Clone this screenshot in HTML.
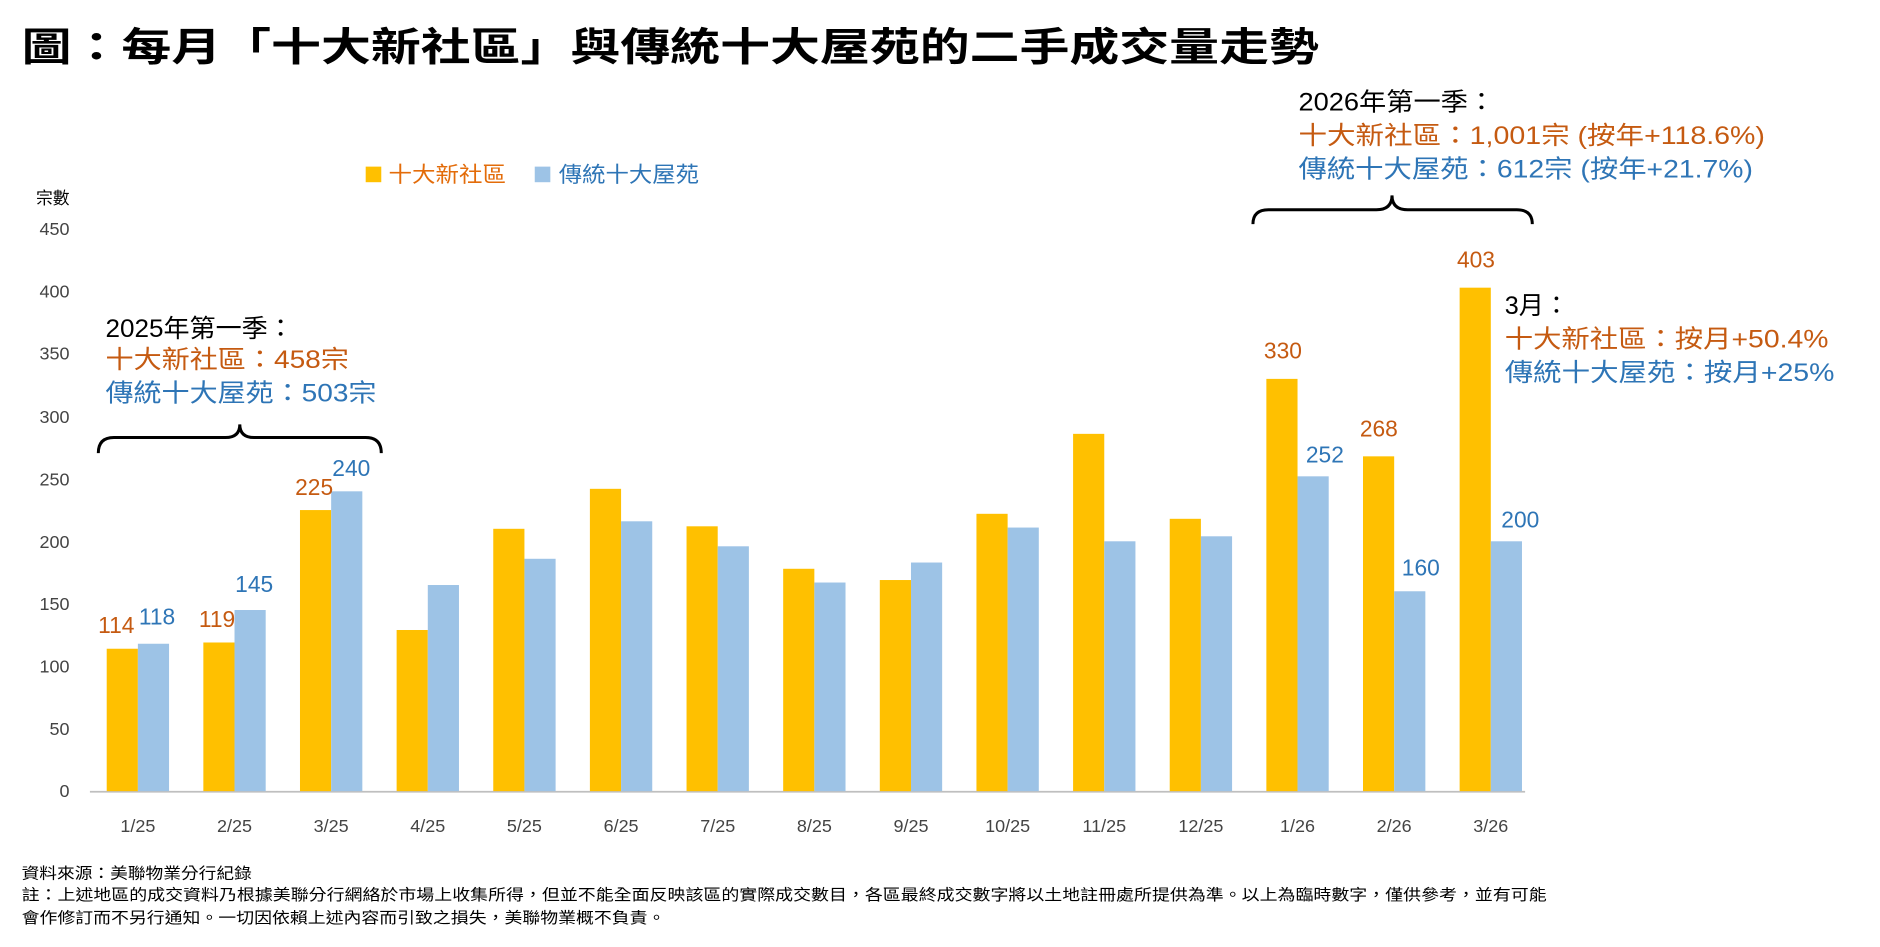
<!DOCTYPE html>
<html><head><meta charset="utf-8"><style>
html,body{margin:0;padding:0;background:#fff;}
svg{display:block;}
text{font-family:"Liberation Sans","Noto Sans CJK TC",sans-serif;}
</style></head><body>
<svg width="1880" height="947" viewBox="0 0 1568 790" preserveAspectRatio="none" xmlns="http://www.w3.org/2000/svg">
<rect width="1568" height="790" fill="#fff"/>
<text x="18" y="51" font-size="33" font-weight="bold" fill="#000" textLength="1082" lengthAdjust="spacingAndGlyphs">圖：每月「十大新社區」與傳統十大屋苑的二手成交量走勢</text>
<rect x="305" y="139" width="13" height="13" fill="#FFC000"/>
<text x="324" y="152" font-size="18" fill="#E36C0A" textLength="98" lengthAdjust="spacingAndGlyphs">十大新社區</text>
<rect x="446" y="139" width="13" height="13" fill="#9DC3E6"/>
<text x="466" y="152" font-size="18" fill="#2E75B6" textLength="117" lengthAdjust="spacingAndGlyphs">傳統十大屋苑</text>
<text x="30" y="170" font-size="14" fill="#000">宗數</text>
<g font-size="15" fill="#444" text-anchor="end">
<text x="58" y="665">0</text><text x="58" y="613">50</text><text x="58" y="561">100</text>
<text x="58" y="509">150</text><text x="58" y="457">200</text><text x="58" y="405">250</text>
<text x="58" y="353">300</text><text x="58" y="300">350</text><text x="58" y="248">400</text>
<text x="58" y="196">450</text>
</g>
<line x1="75" y1="660.5" x2="1272" y2="660.5" stroke="#bfbfbf" stroke-width="1.5"/>
<g id="bars"></g>
<g id="xl" font-size="15" fill="#444" text-anchor="middle"></g>
<g font-size="19">
<text x="97" y="528" text-anchor="middle" fill="#C55A11">114</text>
<text x="131" y="521" text-anchor="middle" fill="#2E75B6">118</text>
<text x="181" y="523" text-anchor="middle" fill="#C55A11">119</text>
<text x="212" y="494" text-anchor="middle" fill="#2E75B6">145</text>
<text x="262" y="413" text-anchor="middle" fill="#C55A11">225</text>
<text x="293" y="397" text-anchor="middle" fill="#2E75B6">240</text>
<text x="1070" y="299" text-anchor="middle" fill="#C55A11">330</text>
<text x="1105" y="386" text-anchor="middle" fill="#2E75B6">252</text>
<text x="1150" y="364" text-anchor="middle" fill="#C55A11">268</text>
<text x="1185" y="480" text-anchor="middle" fill="#2E75B6">160</text>
<text x="1231" y="223" text-anchor="middle" fill="#C55A11">403</text>
<text x="1268" y="440" text-anchor="middle" fill="#2E75B6">200</text>
</g>
<g font-size="21">
<text x="88" y="281" fill="#000" textLength="157" lengthAdjust="spacingAndGlyphs">2025年第一季：</text>
<text x="88" y="307" fill="#C55A11" textLength="203" lengthAdjust="spacingAndGlyphs">十大新社區：458宗</text>
<text x="88" y="335" fill="#2E75B6" textLength="226" lengthAdjust="spacingAndGlyphs">傳統十大屋苑：503宗</text>
<text x="1083" y="92" fill="#000" textLength="164" lengthAdjust="spacingAndGlyphs">2026年第一季：</text>
<text x="1083" y="120" fill="#C55A11" textLength="389" lengthAdjust="spacingAndGlyphs">十大新社區：1,001宗 (按年+118.6%)</text>
<text x="1083" y="148" fill="#2E75B6" textLength="379" lengthAdjust="spacingAndGlyphs">傳統十大屋苑：612宗 (按年+21.7%)</text>
<text x="1255" y="262" fill="#000">3月：</text>
<text x="1255" y="290" fill="#C55A11" textLength="270" lengthAdjust="spacingAndGlyphs">十大新社區：按月+50.4%</text>
<text x="1255" y="318" fill="#2E75B6" textLength="275" lengthAdjust="spacingAndGlyphs">傳統十大屋苑：按月+25%</text>
</g>
<path d="M82 378 Q82 365 95 365 L188 365 Q200 365 200 354 Q200 365 212 365 L305 365 Q318 365 318 378" fill="none" stroke="#000" stroke-width="2.5"/>
<path d="M1045 187 Q1045 175 1058 175 L1148 175 Q1161 175 1161 163 Q1161 175 1174 175 L1265 175 Q1278 175 1278 187" fill="none" stroke="#000" stroke-width="2.5"/>
<g font-size="13" fill="#000">
<text x="18" y="733" textLength="192" lengthAdjust="spacingAndGlyphs">資料來源：美聯物業分行紀錄</text>
<text x="18" y="751" textLength="1272" lengthAdjust="spacingAndGlyphs">註：上述地區的成交資料乃根據美聯分行網絡於市場上收集所得，但並不能全面反映該區的實際成交數目，各區最終成交數字將以土地註冊處所提供為準。以上為臨時數字，僅供參考，並有可能</text>
<text x="18" y="770" textLength="537" lengthAdjust="spacingAndGlyphs">會作修訂而不另行通知。一切因依賴上述內容而引致之損失，美聯物業概不負責。</text>
</g>
<script>
var o=[114,119,225,129,210,242,212,178,169,222,286,218,330,268,403];
var b=[118,145,240,165,186,216,196,167,183,211,200,204,252,160,200];
var l=["1/25","2/25","3/25","4/25","5/25","6/25","7/25","8/25","9/25","10/25","11/25","12/25","1/26","2/26","3/26"];
var ns="http://www.w3.org/2000/svg",g=document.getElementById("bars"),x=document.getElementById("xl");
function y(v){return 660-v*469/450;}
for(var i=0;i<15;i++){var c=115+80.6*i;
var r=document.createElementNS(ns,"rect");r.setAttribute("x",c-26);r.setAttribute("y",y(o[i]));r.setAttribute("width",26);r.setAttribute("height",660-y(o[i]));r.setAttribute("fill","#FFC000");g.appendChild(r);
r=document.createElementNS(ns,"rect");r.setAttribute("x",c);r.setAttribute("y",y(b[i]));r.setAttribute("width",26);r.setAttribute("height",660-y(b[i]));r.setAttribute("fill","#9DC3E6");g.appendChild(r);
var t=document.createElementNS(ns,"text");t.setAttribute("x",c);t.setAttribute("y",694);t.textContent=l[i];x.appendChild(t);}
</script>
</svg>
</body></html>
